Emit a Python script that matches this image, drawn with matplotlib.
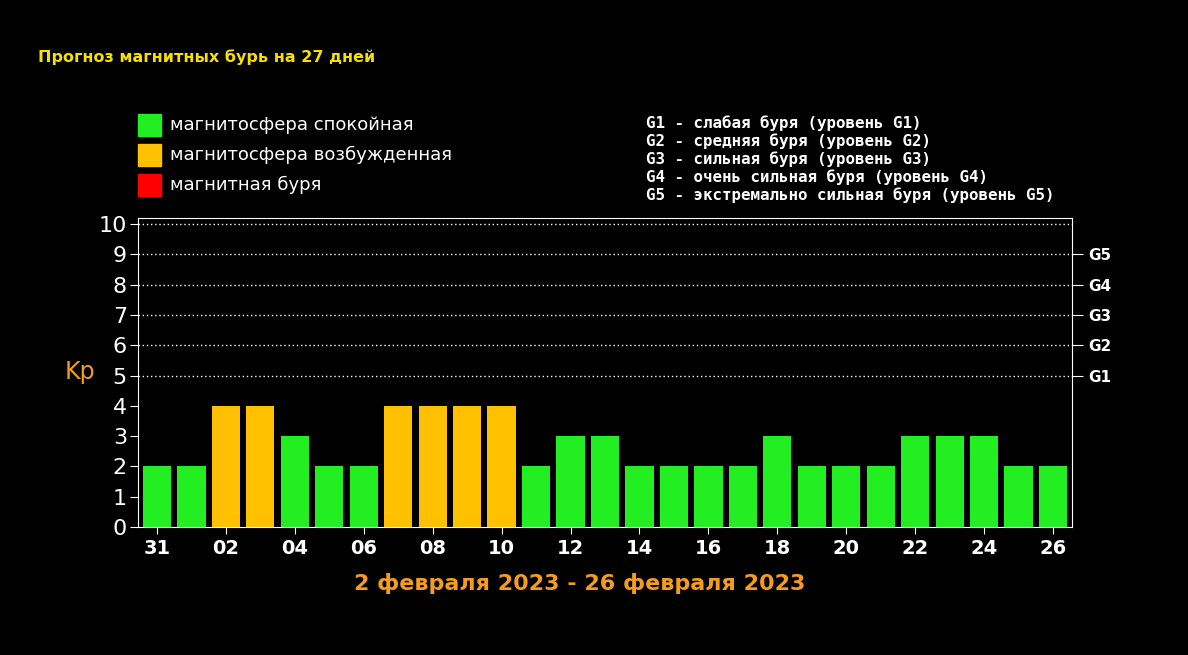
import matplotlib.pyplot as plt
import numpy as np

days = ["31", "01", "02", "03", "04", "05", "06", "07", "08", "09", "10", "11", "12", "13",
        "14", "15", "16", "17", "18", "19", "20", "21", "22", "23", "24", "25", "26"]
kp = [2, 2, 4, 4, 3, 2, 2, 4, 4, 4, 4, 2, 3, 3, 2, 2, 2, 2, 3, 2, 2, 2, 3, 3, 3, 2, 2]
g_levels = ["G1", "G2", "G3", "G4", "G5"]
g_kp = [5, 6, 7, 8, 9]
legend_left = ["магнитосфера спокойная", "магнитосфера возбужденная", "магнитная буря"]
legend_right = ["G1 - слабая буря (уровень G1)", "G2 - средняя буря (уровень G2)",
                "G3 - сильная буря (уровень G3)", "G4 - очень сильная буря (уровень G4)",
                "G5 - экстремально сильная буря (уровень G5)"]

GREEN, ORANGE, RED = "#22ee22", "#ffc000", "#ff0000"
W, H = 1188, 655
fig = plt.figure(figsize=(W / 100, H / 100), dpi=100, facecolor="black")
ax = fig.add_axes([138 / W, 1 - 527 / H, (1072 - 138) / W, (527 - 218) / H])
ax.set_facecolor("black")

x = np.arange(len(kp))
colors = [RED if v >= 5 else ORANGE if v == 4 else GREEN for v in kp]
for y in range(5, 11):
    ax.axhline(y, color="white", lw=1, ls=(0, (1, 2)), zorder=0)
ax.bar(x, kp, width=0.82, color=colors, zorder=2)
ax.set_xlim(-0.55, len(kp) - 0.45)
ax.set_ylim(0, 10.2)

for s in ax.spines.values():
    s.set_color("white")
ax.set_yticks(range(11))
ax.tick_params(axis="y", colors="white", labelsize=16, length=6, pad=2)
ax.set_xticks(x[::2])
ax.set_xticklabels(days[::2])
ax.tick_params(axis="x", colors="white", labelsize=14, length=5)
for lbl in ax.get_xticklabels():
    lbl.set_fontweight("bold")

ax2 = ax.twinx()
ax2.set_ylim(ax.get_ylim())
ax2.set_yticks(g_kp)
ax2.set_yticklabels(g_levels)
ax2.tick_params(axis="y", colors="white", labelsize=11, length=8)
for lbl in ax2.get_yticklabels():
    lbl.set_fontweight("bold")
for s in ax2.spines.values():
    s.set_visible(False)

fig.text(80 / W, 1 - 372 / H, "Kp", color="#f39c1f", fontsize=17, ha="center", va="center")
fig.text(38 / W, 1 - 57 / H, "Прогноз магнитных бурь на 27 дней", color="#f5e000",
         fontsize=11.5, fontweight="bold", va="center")
fig.text(580 / W, 1 - 584 / H, "2 февраля 2023 - 26 февраля 2023", color="#f39c1f",
         fontsize=16, fontweight="bold", ha="center", va="center")

for i, (txt, c) in enumerate(zip(legend_left, [GREEN, ORANGE, RED])):
    yy = 125 + 30 * i
    fig.patches.append(plt.Rectangle((138 / W, 1 - (yy + 11) / H), 23 / W, 22 / H,
                                     transform=fig.transFigure, color=c))
    fig.text(170 / W, 1 - yy / H, txt, color="white", fontsize=13, va="center")
for i, txt in enumerate(legend_right):
    fig.text(646 / W, 1 - (123 + 18 * i) / H, txt, color="white", fontsize=11.4,
             fontweight="bold", va="center", family="DejaVu Sans Mono")

fig.savefig("out.png", dpi=100, facecolor="black")
